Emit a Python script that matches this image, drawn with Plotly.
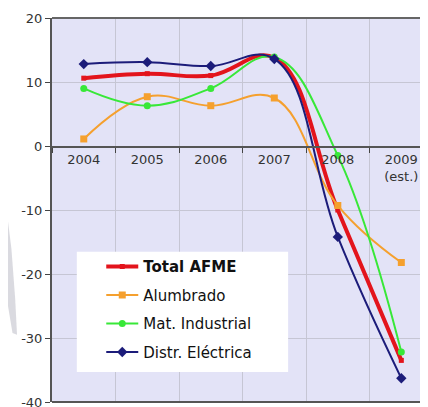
"""Evolución por subsector AFME (Plotly)"""
import plotly.graph_objects as go

FONT_FAMILY = "DejaVu Sans, Verdana, sans-serif"

# datos
years = ["2004", "2005", "2006", "2007", "2008", "2009<br>(est.)"]
total_afme = [10.6, 11.3, 11.0, 13.8, -10.0, -33.5]
alumbrado = [1.1, 7.7, 6.3, 7.5, -9.3, -18.2]
mat_industrial = [9.0, 6.3, 9.0, 13.9, -1.5, -32.2]
distr_electrica = [12.8, 13.1, 12.5, 13.6, -14.2, -36.3]

y_ticks = [-40, -30, -20, -10, 0, 10, 20]
y_labels = [str(v) for v in y_ticks]

series = [
    ("<b>Total AFME</b>", total_afme, "#e3141c", 4, "square", 5),
    ("Alumbrado", alumbrado, "#f5a02e", 2, "square", 7),
    ("Mat. Industrial", mat_industrial, "#38e838", 2, "circle", 7),
    ("Distr. Eléctrica", distr_electrica, "#1c1c7a", 2, "diamond", 8),
]

X_RANGE = [-0.5, 5.42]
GRID = "#c6c6d4"
AXIS = "#555555"

fig = go.Figure()
for name, vals, color, width, symbol, msize in series:
    fig.add_trace(go.Scatter(
        x=years, y=vals, name=name, mode="lines+markers", legendgroup=name,
        line=dict(color=color, width=width, shape="spline", smoothing=1.15),
        marker=dict(color=color, symbol=symbol, size=msize),
    ))

# subplot auxiliar (x2/y2) solo para dibujar el eje X sobre y=0
fig.add_trace(go.Scatter(x=years, y=[None] * len(years), xaxis="x2", yaxis="y2",
                         showlegend=False, hoverinfo="skip"))

zero_frac = (0 - y_ticks[0]) / (y_ticks[-1] - y_ticks[0])

# la página tiene 8px de margen en el body
fig.update_layout(
    width=420, height=399,
    font=dict(family=FONT_FAMILY, size=13, color="#333333"),
    paper_bgcolor="white",
    plot_bgcolor="rgba(0,0,0,0)",
    margin=dict(l=44, r=0, t=10, b=5),
    showlegend=True,
    legend=dict(
        x=0.131, y=0.395, xanchor="left", yanchor="top",
        bgcolor="rgba(0,0,0,0)", borderwidth=0,
        font=dict(size=15, color="#111111"),
        itemwidth=32, tracegroupgap=6,
    ),
    xaxis=dict(
        type="category", categoryorder="array", categoryarray=years,
        range=X_RANGE, domain=[0, 1],
        tickson="boundaries", ticks="", showticklabels=False,
        showline=False, showgrid=True, gridcolor=GRID, gridwidth=1,
    ),
    yaxis=dict(
        range=[y_ticks[0], y_ticks[-1]], tickvals=y_ticks, ticktext=y_labels,
        domain=[0, 1], automargin=False, ticklabeloverflow="allow",
        ticks="outside", ticklen=5, tickcolor="#444444",
        showline=True, linecolor=AXIS, linewidth=2,
        showgrid=True, gridcolor=GRID, gridwidth=1,
        zeroline=False,
        tickfont=dict(size=13, color="#333333"),
    ),
    xaxis2=dict(
        type="category", categoryorder="array", categoryarray=years,
        range=X_RANGE, domain=[0, 1], anchor="y2",
        tickson="boundaries", ticks="outside", ticklen=5, tickcolor="#444444",
        showline=True, linecolor=AXIS, linewidth=2, showgrid=False,
        tickfont=dict(size=13, color="#333333"), automargin=False,
    ),
    yaxis2=dict(
        domain=[zero_frac, 1], range=[0, 1], anchor="x2",
        showticklabels=False, showgrid=False, zeroline=False, showline=False,
        ticks="",
    ),
    shapes=[
        # fondo del área de trazado
        dict(type="rect", xref="paper", yref="paper", x0=0, x1=1, y0=0, y1=1,
             fillcolor="#e3e3f7", line=dict(width=0), layer="below"),
        # marco superior e inferior
        dict(type="line", xref="paper", yref="paper", x0=0, x1=1, y0=1, y1=1,
             line=dict(color="#666666", width=2)),
        dict(type="line", xref="paper", yref="paper", x0=0, x1=1, y0=0, y1=0,
             line=dict(color=AXIS, width=2)),
        # caja blanca de la leyenda
        dict(type="rect", xref="paper", yref="paper",
             x0=0.066, x1=0.628, y0=0.078, y1=0.391,
             fillcolor="white", line=dict(width=0), layer="above"),
        # marca de agua gris a la izquierda
        dict(type="path", xref="paper", yref="paper",
             path="M -0.117 0.47 L -0.108 0.40 L -0.098 0.27 L -0.093 0.175 "
                  "L -0.105 0.18 L -0.117 0.25 Z",
             fillcolor="rgba(150,150,165,0.35)", line=dict(width=0), layer="below"),
    ],
)

fig.write_html("out.html")
